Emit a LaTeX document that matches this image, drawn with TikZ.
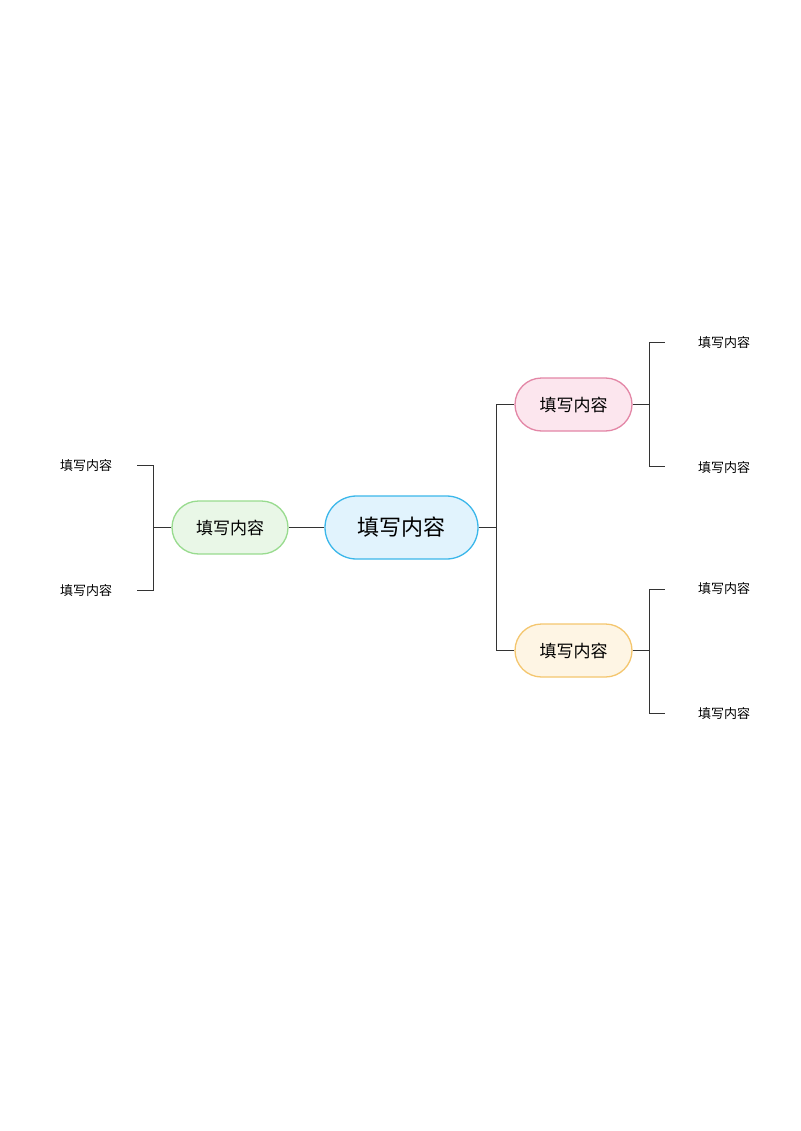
\documentclass[tikz,border=0pt]{standalone}
\usepackage{fontspec}
\newfontfamily\cjk{Noto Sans CJK SC}
\begin{document}
\begin{tikzpicture}[x=1pt,y=-1pt,
  pill/.style={draw,line width=1.3pt,inner sep=0pt,font=\cjk\fontsize{17}{20}\selectfont},
  leaf/.style={inner sep=0pt,font=\cjk\fontsize{13}{15}\selectfont},
  conn/.style={draw=black!80,line width=0.9pt}]
\useasboundingbox (0,0) rectangle (800,1131);
\definecolor{cb}{HTML}{3BB7EA}\definecolor{cbf}{HTML}{E1F3FD}
\definecolor{gb}{HTML}{98DB8E}\definecolor{gbf}{HTML}{E9F7E7}
\definecolor{pb}{HTML}{E386A6}\definecolor{pbf}{HTML}{FCE6EE}
\definecolor{ob}{HTML}{F4C66E}\definecolor{obf}{HTML}{FEF5E4}
\node[pill,draw=cb,fill=cbf,minimum width=153,minimum height=63,rounded corners=31.5,font=\cjk\fontsize{22}{26}\selectfont] (c) at (401.5,527.5) {填写内容};
\node[pill,draw=gb,fill=gbf,minimum width=116,minimum height=53,rounded corners=26.5] (g) at (230,527.5) {填写内容};
\node[pill,draw=pb,fill=pbf,minimum width=117,minimum height=53,rounded corners=26.5] (p) at (573.5,404.5) {填写内容};
\node[pill,draw=ob,fill=obf,minimum width=117,minimum height=53,rounded corners=26.5] (o) at (573.5,650.5) {填写内容};
\node[leaf] (l1) at (86,466) {填写内容};
\node[leaf] (l2) at (86,591) {填写内容};
\node[leaf] (p1) at (724,343) {填写内容};
\node[leaf] (p2) at (724,468) {填写内容};
\node[leaf] (o1) at (724,589) {填写内容};
\node[leaf] (o2) at (724,714) {填写内容};
\coordinate (a1) at (137,465);\coordinate (a2) at (137,590);
\coordinate (b1) at (665,342);\coordinate (b2) at (665,466);
\coordinate (d1) at (665,589);\coordinate (d2) at (665,713);
\draw[conn] (c.west) -- (g.east);
\draw[conn] (c.east) -- ++(18,0) |- (p.west);
\draw[conn] (c.east) -- ++(18,0) |- (o.west);
\draw[conn] (g.west) -- ++(-18,0) |- (a1);
\draw[conn] (g.west) -- ++(-18,0) |- (a2);
\draw[conn] (p.east) -- ++(17,0) |- (b1);
\draw[conn] (p.east) -- ++(17,0) |- (b2);
\draw[conn] (o.east) -- ++(17,0) |- (d1);
\draw[conn] (o.east) -- ++(17,0) |- (d2);
\end{tikzpicture}
\end{document}
